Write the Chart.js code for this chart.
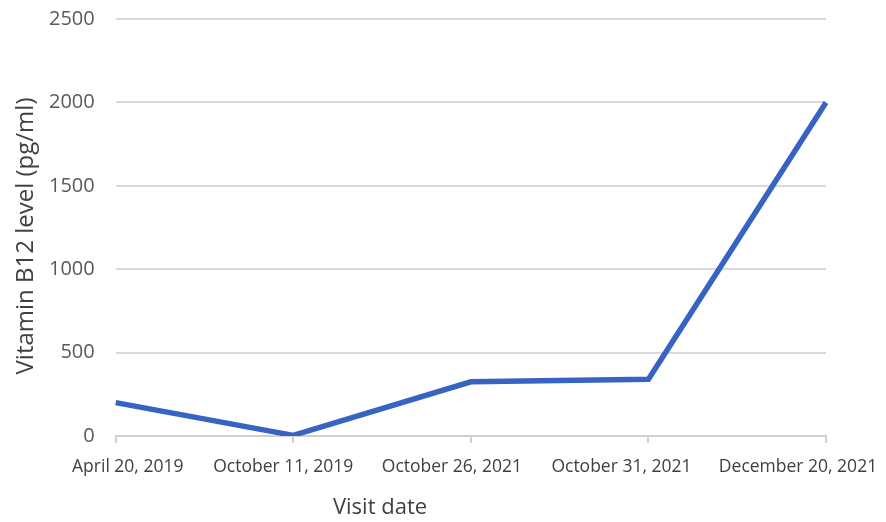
<!DOCTYPE html>
<html>
<head>
<meta charset="utf-8">
<script src="https://cdn.jsdelivr.net/npm/chart.js@4"></script>
<style>
  html, body { margin: 0; padding: 0; background: #fff; }
  #wrap { width: 886px; height: 522px; }
</style>
</head>
<body>
<div id="wrap"><canvas id="lineChart"></canvas></div>
<script>
'use strict';

// visit dates and measured B12 levels
const visitDates = ['April 20, 2019', 'October 11, 2019', 'October 26, 2021', 'October 31, 2021', 'December 20, 2021'];
const b12Levels = [200, 4, 325, 340, 2000];
const yTicks = [0, 500, 1000, 1500, 2000, 2500];
const xTitle = 'Visit date';
const yTitle = 'Vitamin B12 level (pg/ml)';

const ctx = document.getElementById('lineChart').getContext('2d');

// the date labels are spread out like in the office chart, not centred on the ticks
const labelShift = [12, -10, -19, -27, -28];

const axisText = {
  id: 'axisText',
  afterDraw(chart) {
    const c = chart.ctx;
    const xs = chart.scales.x;
    c.save();
    c.fillStyle = '#404040';
    c.textAlign = 'center';
    c.textBaseline = 'middle';
    c.font = '17.5px "Open Sans"';
    visitDates.forEach((d, i) => {
      c.fillText(d, xs.getPixelForValue(i) + labelShift[i], 467);
    });
    c.font = '22px "Open Sans"';
    c.fillText(xTitle, 380, 508);
    c.translate(26, 236);
    c.rotate(-Math.PI / 2);
    c.font = '24px "Open Sans"';
    c.fillText(yTitle, 0, 0);
    c.restore();
  }
};

function renderChart() {
  const chartObj = {
    type: 'line',
    data: {
      labels: visitDates,
      datasets: [{
        label: 'Vitamin B12',
        data: b12Levels,
        borderColor: '#3763c2',
        borderWidth: 5.5,
        pointRadius: 0,
        tension: 0,
        fill: false
      }]
    },
    options: {
      responsive: true,
      maintainAspectRatio: false,
      animation: false,
      layout: {
        padding: { top: 19, right: 60, bottom: 79, left: 28 }
      },
      plugins: {
        legend: { display: false },
        tooltip: { enabled: false }
      },
      scales: {
        x: {
          offset: false,
          grid: {
            drawOnChartArea: false,
            drawTicks: true,
            tickLength: 7,
            color: '#d0d0d0',
            lineWidth: 2
          },
          border: { color: '#d0d0d0', width: 2 },
          ticks: { display: false }
        },
        y: {
          min: 0,
          max: 2500,
          afterBuildTicks: (axis) => {
            axis.ticks = yTicks.map(v => ({ value: v }));
          },
          afterFit: (axis) => {
            axis.paddingTop = 0;
            axis.paddingBottom = 0;
          },
          grid: {
            drawTicks: false,
            color: '#d9d9d9',
            lineWidth: 2
          },
          border: { display: false },
          ticks: {
            color: '#595959',
            font: { family: 'Open Sans', size: 20 },
            padding: 21,
            callback: (v) => String(v)
          }
        }
      }
    },
    plugins: [axisText]
  };
  const myChart = new Chart(ctx, chartObj);
}

renderChart();
</script>
</body>
</html>
